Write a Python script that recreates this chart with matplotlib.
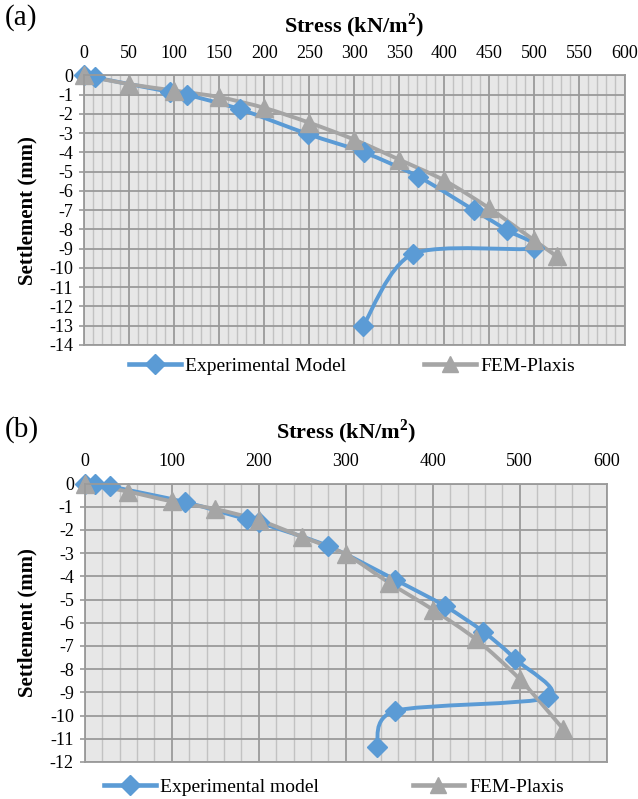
import numpy as np
import matplotlib.pyplot as plt
from matplotlib.path import Path
from matplotlib.patches import PathPatch
from matplotlib.lines import Line2D

plt.rcParams['font.family'] = ['Liberation Serif', 'DejaVu Serif']
plt.rcParams['mathtext.fontset'] = 'custom'
plt.rcParams['mathtext.rm'] = 'Liberation Serif'
plt.rcParams['mathtext.bf'] = 'Liberation Serif:bold'
plt.rcParams['axes.unicode_minus'] = False

# (a) data
exp_a_x = [0, 12, 95, 114, 173, 249, 311, 371, 433, 470, 499, 365, 310]
exp_a_y = [0, -0.1, -0.85, -1.0, -1.75, -3.05, -4.0, -5.25, -7.0, -8.05, -8.98, -9.27, -13.0]
fem_a_x = [0, 50, 100, 150, 200, 250, 300, 350, 400, 450, 500, 525]
fem_a_y = [0, -0.45, -0.78, -1.12, -1.68, -2.45, -3.33, -4.37, -5.45, -6.9, -8.57, -9.4]

# (b) data
exp_b_x = [0, 12, 29, 115, 187, 200, 280, 357, 414, 458, 495, 533, 357, 336]
exp_b_y = [0, 0, -0.12, -0.8, -1.55, -1.68, -2.7, -4.15, -5.28, -6.38, -7.57, -9.22, -9.8, -11.37]
fem_b_x = [0, 50, 100, 150, 200, 250, 300, 350, 400, 450, 500, 550]
fem_b_y = [0, -0.35, -0.77, -1.1, -1.58, -2.3, -3.05, -4.28, -5.43, -6.72, -8.43, -10.58]

BLUE = '#5B9BD5'
GREY = '#A5A5A5'
W, H = 638, 799


def smooth_path(xs, ys, f=1 / 7):
    # Excel-like smoothed line (Catmull-Rom style cubic Bezier)
    pts = np.column_stack([xs, ys]).astype(float)
    n = len(pts)
    verts = [pts[0]]
    codes = [Path.MOVETO]
    for i in range(n - 1):
        p0 = pts[i - 1] if i > 0 else pts[i]
        p1, p2 = pts[i], pts[i + 1]
        p3 = pts[i + 2] if i + 2 < n else pts[i + 1]
        verts += [p1 + (p2 - p0) * f, p2 - (p3 - p1) * f, p2]
        codes += [Path.CURVE4] * 3
    return Path(verts, codes)


def draw_panel(ax, ex, ey, fx, fy, xmax, xmajor, xminor, ymin):
    ax.set_facecolor('#E7E7E7')
    ax.set_xlim(0, xmax)
    ax.set_ylim(ymin, 0)
    ax.set_xticks(np.arange(0, xmax + 1, xmajor))
    ax.set_xticks(np.arange(0, xmax + 1, xminor), minor=True)
    ax.set_yticks(np.arange(ymin, 1, 1))
    ax.set_axisbelow(True)
    ax.grid(which='major', color='#9A9A9A', lw=1.3)
    ax.grid(which='minor', axis='x', color='#C2C2C2', lw=1.0)
    ax.xaxis.tick_top()
    ax.xaxis.set_label_position('top')
    ax.tick_params(axis='x', which='both', length=0, pad=9.5, labelsize=13)
    ax.tick_params(axis='y', length=3.8, width=1.2, color='#9A9A9A', pad=4, labelsize=13)
    for s in ax.spines.values():
        s.set_color('#9A9A9A')
        s.set_linewidth(1.3)

    for xs, ys, c, m, ms in [(ex, ey, BLUE, 'D', 10.5), (fx, fy, GREY, '^', 13)]:
        ax.add_patch(PathPatch(smooth_path(xs, ys), facecolor='none', edgecolor=c,
                               lw=2.8, capstyle='round', joinstyle='round',
                               transform=ax.transData, clip_on=False))
        ax.plot(xs, ys, ls='none', marker=m, ms=ms, color=c, clip_on=False)

    ax.set_xlabel(r'Stress (kN/m$^{\bf 2}$)', fontsize=16, fontweight='bold')
    ax.set_ylabel('Settlement (mm)', fontsize=15, fontweight='bold')


fig = plt.figure(figsize=(W / 100, H / 100), dpi=100)

# panel (a)
ax1 = fig.add_axes([84 / W, 1 - 345 / H, (624.5 - 84) / W, (345 - 75.5) / H])
draw_panel(ax1, exp_a_x, exp_a_y, fem_a_x, fem_a_y, 600, 50, 10, -14)
ax1.xaxis.set_label_coords(0.5, 1 + (75.5 - 26) / 269.5)
ax1.xaxis.label.set_va('center')
ax1.yaxis.set_label_coords((27 - 84) / 540.5, 0.5)
ax1.yaxis.label.set_va('center')

# panel (b)
ax2 = fig.add_axes([84.7 / W, 1 - 762 / H, (606.7 - 84.7) / W, (762 - 483.5) / H])
draw_panel(ax2, exp_b_x, exp_b_y, fem_b_x, fem_b_y, 600, 100, 20, -12)
ax2.xaxis.set_label_coords(0.5, 1 + (483.5 - 432) / 278.5)
ax2.xaxis.label.set_va('center')
ax2.yaxis.set_label_coords((27 - 84.7) / 522, 0.5)
ax2.yaxis.label.set_va('center')

fig.text(5 / W, 1 - 18 / H, '(a)', fontsize=21, va='center', ha='left')
fig.text(5 / W, 1 - 430 / H, '(b)', fontsize=21, va='center', ha='left')


def add_legend(ax, labels, x0, yc, spacing):
    handles = [Line2D([], [], color=BLUE, lw=3.3, marker='D', ms=10),
               Line2D([], [], color=GREY, lw=3.3, marker='^', ms=12)]
    ax.legend(handles, labels, loc='center left', bbox_to_anchor=(x0 / W, 1 - yc / H),
              bbox_transform=fig.transFigure, ncol=2, frameon=False, fontsize=14,
              handlelength=2.65, handletextpad=0.25, columnspacing=spacing,
              borderpad=0, borderaxespad=0)


add_legend(ax1, ['Experimental Model', 'FEM-Plaxis'], 129, 366, 4.0)
add_legend(ax2, ['Experimental model', 'FEM-Plaxis'], 104, 787, 4.8)

fig.savefig('out.png', dpi=100)
